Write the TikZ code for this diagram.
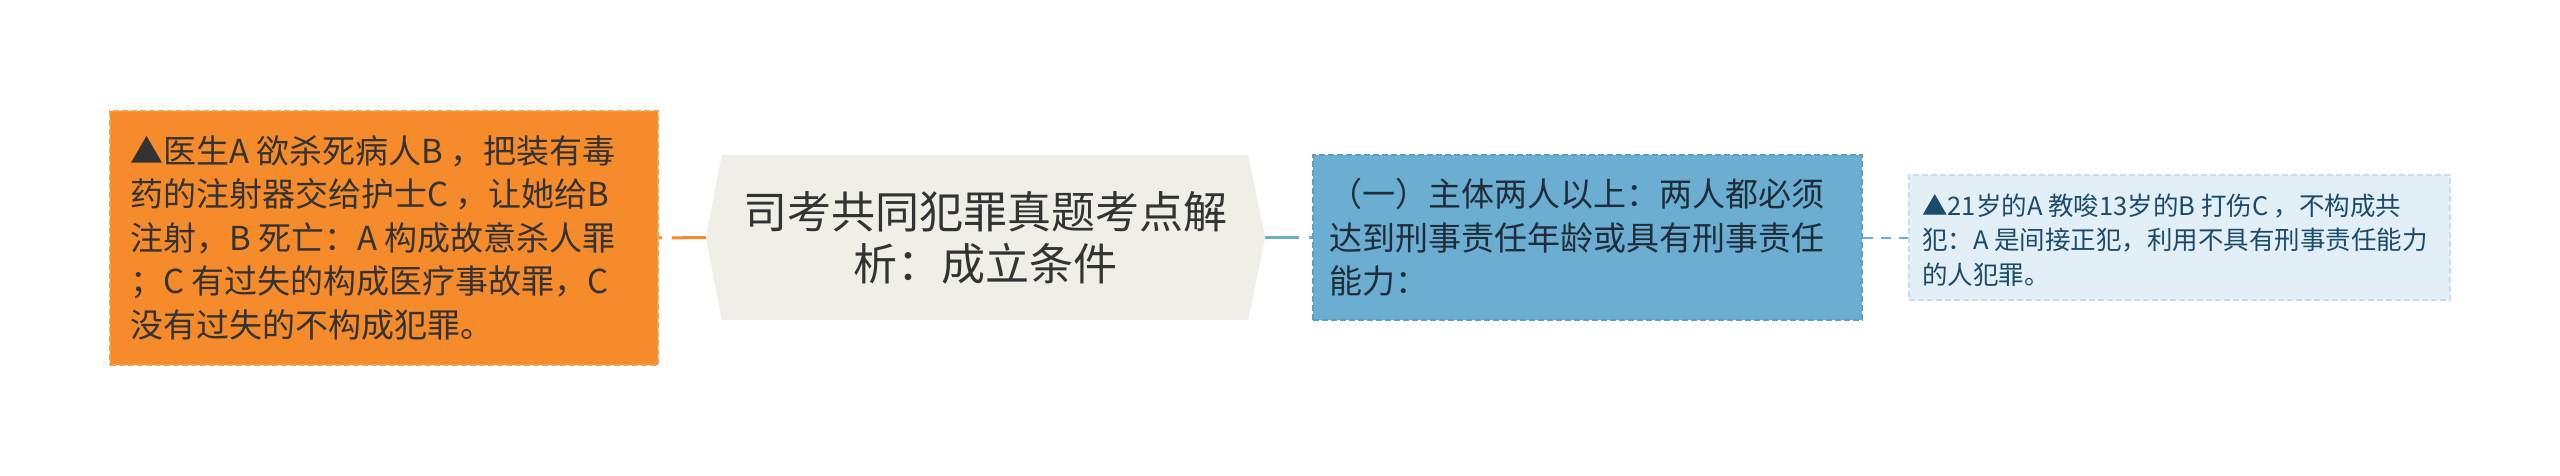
\documentclass[tikz,border=0pt]{standalone}
\usepackage{fontspec}
\setmainfont{Noto Sans CJK SC}
\usetikzlibrary{backgrounds}
\definecolor{orangefill}{HTML}{F68B2B}
\definecolor{orangeline}{HTML}{F3A052}
\definecolor{topicfill}{HTML}{EFEFE8}
\definecolor{bluefill}{HTML}{6BAED1}
\definecolor{blueline}{HTML}{5C9FC4}
\definecolor{lightfill}{HTML}{E2EFF7}
\definecolor{lightline}{HTML}{C4DEEE}
\definecolor{darktext}{HTML}{333333}
\definecolor{navytext}{HTML}{1F2D3A}
\definecolor{lighttext}{HTML}{1B4B6B}
\begin{document}
\begin{tikzpicture}[x=1pt,y=-1pt,
  box/.style={rectangle, dash pattern=on 6pt off 3pt, line width=1.2pt},
  boxtext/.style={anchor=west, align=left, inner sep=0pt},
  link/.style={line width=3pt, dash pattern=on 34pt off 10pt}]
\useasboundingbox (0,0) rectangle (2560,475);
\node[box, fill=orangefill, draw=orangeline, minimum width=548pt, minimum height=254pt] (ex1) at (384,238) {};
\node[boxtext, text=darktext, font=\fontsize{33}{43.5}\selectfont] (ex1text) at (130,238) {▲医生A 欲杀死病人B ，把装有毒\\药的注射器交给护士C ，让她给B\\注射，B 死亡：A 构成故意杀人罪\\；C 有过失的构成医疗事故罪，C\\没有过失的不构成犯罪。};
\node[align=center, text=darktext, font=\fontsize{44}{52}\selectfont, minimum width=559pt, minimum height=165pt, inner sep=0pt] (topic) at (985.5,237.5) {司考共同犯罪真题考点解\\析：成立条件};
\begin{scope}[on background layer]
\fill[topicfill] ([xshift=16pt]topic.north west) -- ([xshift=-17pt]topic.north east) -- (topic.east) -- ([xshift=-17pt]topic.south east) -- ([xshift=16pt]topic.south west) -- (topic.west) -- cycle;
\end{scope}
\node[box, fill=bluefill, draw=blueline, minimum width=549pt, minimum height=165pt] (cond) at (1587.5,237.5) {};
\node[boxtext, text=navytext, font=\fontsize{33}{43.5}\selectfont] (condtext) at (1329,237.5) {（一）主体两人以上：两人都必须\\达到刑事责任年龄或具有刑事责任\\能力：};
\node[box, fill=lightfill, draw=lightline, minimum width=541pt, minimum height=125pt] (ex2) at (2179.5,237.5) {};
\node[boxtext, text=lighttext, font=\fontsize{25.5}{34.5}\selectfont] (ex2text) at (1922,240) {▲21岁的A 教唆13岁的B 打伤C ，不构成共\\犯：A 是间接正犯，利用不具有刑事责任能力\\的人犯罪。};
\draw[link, orangefill](topic.west) -- (ex1.east);
\draw[link, bluefill](topic.east) -- (cond.west);
\draw[link, bluefill, line width=2pt, dash pattern=on 10pt off 8pt](cond.east) -- (ex2.west);
\end{tikzpicture}
\end{document}
